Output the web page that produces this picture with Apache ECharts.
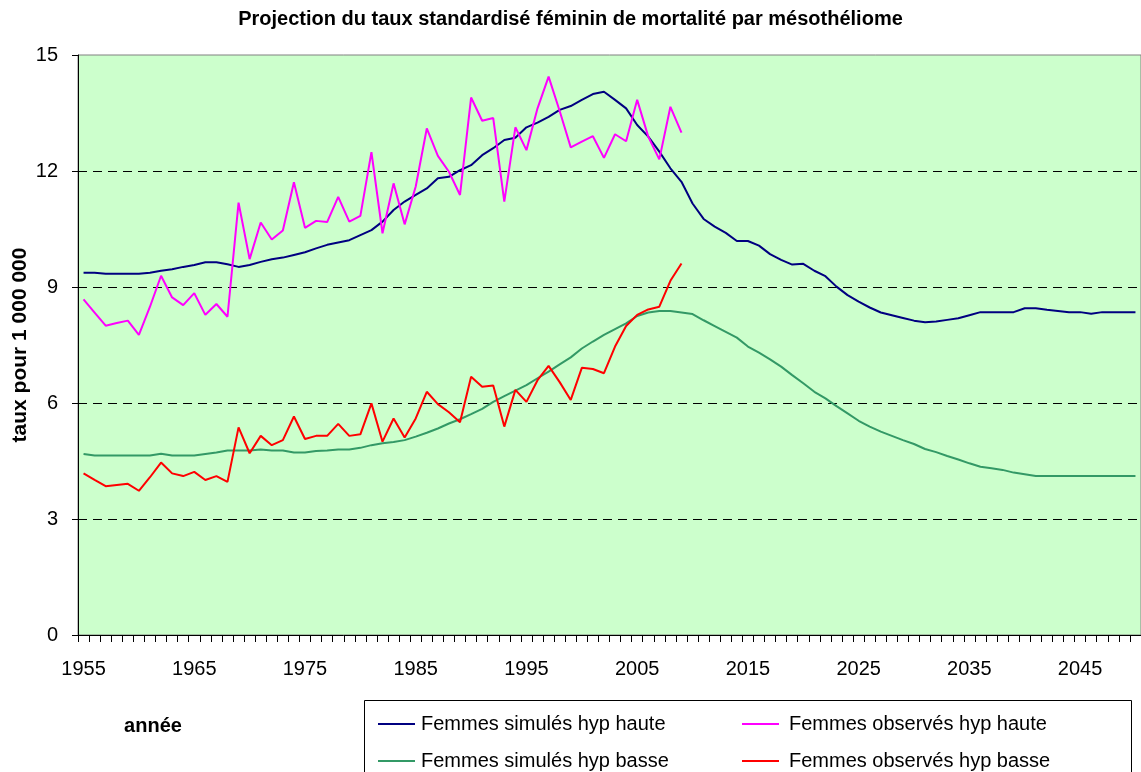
<!DOCTYPE html>
<html>
<head>
<meta charset="utf-8">
<title>mésothéliome</title>
<script src="https://cdn.jsdelivr.net/npm/echarts@6/dist/echarts.min.js"></script>
<style>
  body { margin: 0; background: #fff; }
  #chart { width: 1141px; height: 772px; }
</style>
</head>
<body>
<div id="chart"></div>
<script>
var years = [
  '1955','1956','1957','1958','1959','1960','1961','1962','1963','1964',
  '1965','1966','1967','1968','1969','1970','1971','1972','1973','1974',
  '1975','1976','1977','1978','1979','1980','1981','1982','1983','1984',
  '1985','1986','1987','1988','1989','1990','1991','1992','1993','1994',
  '1995','1996','1997','1998','1999','2000','2001','2002','2003','2004',
  '2005','2006','2007','2008','2009','2010','2011','2012','2013','2014',
  '2015','2016','2017','2018','2019','2020','2021','2022','2023','2024',
  '2025','2026','2027','2028','2029','2030','2031','2032','2033','2034',
  '2035','2036','2037','2038','2039','2040','2041','2042','2043','2044',
  '2045','2046','2047','2048','2049','2050'
];

// Femmes simulés hyp haute
var simHaute = [
  9.37, 9.37, 9.34, 9.34, 9.34, 9.34, 9.37, 9.42, 9.46, 9.52,
  9.57, 9.64, 9.64, 9.59, 9.52, 9.57, 9.65, 9.72, 9.76, 9.83,
  9.90, 10.00, 10.09, 10.15, 10.21, 10.34, 10.47, 10.69, 10.99, 11.21,
  11.38, 11.55, 11.81, 11.85, 12.02, 12.15, 12.41, 12.59, 12.80, 12.86,
  13.13, 13.25, 13.40, 13.58, 13.68, 13.84, 13.99, 14.05, 13.84, 13.62,
  13.19, 12.89, 12.50, 12.07, 11.72, 11.16, 10.76, 10.56, 10.40, 10.19,
  10.19, 10.07, 9.85, 9.70, 9.58, 9.60, 9.42, 9.28, 9.01, 8.79,
  8.62, 8.47, 8.34, 8.27, 8.20, 8.13, 8.09, 8.11, 8.15, 8.19,
  8.27, 8.35, 8.35, 8.35, 8.35, 8.45, 8.45, 8.41, 8.38, 8.35,
  8.35, 8.31, 8.35, 8.35, 8.35, 8.35
];

// Femmes observés hyp haute (1955-2009)
var obsHaute = [
  8.68, 8.34, 8.00, 8.07, 8.13, 7.76, 8.49, 9.29, 8.73, 8.53,
  8.84, 8.28, 8.56, 8.23, 11.18, 9.72, 10.67, 10.23, 10.46, 11.71,
  10.53, 10.71, 10.68, 11.33, 10.69, 10.84, 12.49, 10.39, 11.68, 10.62,
  11.60, 13.10, 12.39, 11.98, 11.38, 13.90, 13.30, 13.37, 11.21, 13.13,
  12.54, 13.62, 14.44, 13.55, 12.61, 12.76, 12.90, 12.34, 12.95, 12.77,
  13.84, 12.89, 12.30, 13.66, 12.99
];

// Femmes simulés hyp basse
var simBasse = [
  4.68, 4.64, 4.64, 4.64, 4.64, 4.64, 4.64, 4.69, 4.64, 4.64,
  4.64, 4.68, 4.72, 4.77, 4.77, 4.77, 4.80, 4.77, 4.77, 4.72,
  4.72, 4.76, 4.77, 4.80, 4.80, 4.84, 4.91, 4.96, 4.99, 5.04,
  5.13, 5.23, 5.34, 5.47, 5.58, 5.71, 5.85, 6.03, 6.18, 6.32,
  6.46, 6.64, 6.81, 7.00, 7.18, 7.41, 7.59, 7.76, 7.91, 8.06,
  8.25, 8.34, 8.38, 8.38, 8.34, 8.30, 8.14, 7.99, 7.84, 7.69,
  7.46, 7.30, 7.13, 6.94, 6.72, 6.51, 6.29, 6.12, 5.92, 5.73,
  5.54, 5.39, 5.26, 5.15, 5.04, 4.94, 4.81, 4.73, 4.63, 4.54,
  4.44, 4.35, 4.31, 4.27, 4.20, 4.16, 4.11, 4.11, 4.11, 4.11,
  4.11, 4.11, 4.11, 4.11, 4.11, 4.11
];

// Femmes observés hyp basse (1955-2009)
var obsBasse = [
  4.18, 4.01, 3.85, 3.88, 3.91, 3.73, 4.08, 4.46, 4.18, 4.11,
  4.22, 4.01, 4.11, 3.96, 5.37, 4.70, 5.15, 4.91, 5.04, 5.65,
  5.07, 5.15, 5.15, 5.46, 5.15, 5.19, 5.99, 5.00, 5.60, 5.11,
  5.60, 6.29, 5.97, 5.76, 5.50, 6.68, 6.42, 6.45, 5.39, 6.34,
  6.03, 6.59, 6.96, 6.54, 6.08, 6.91, 6.88, 6.77, 7.46, 7.99,
  8.28, 8.42, 8.49, 9.16, 9.61
];

var yTicks = [0, 3, 6, 9, 12, 15];

var font = 'Liberation Sans, Arial, sans-serif';
var names = [
  'Femmes simulés hyp haute',
  'Femmes observés hyp haute',
  'Femmes simulés hyp basse',
  'Femmes observés hyp basse'
];
var colors = ['#000080', '#FF00FF', '#339966', '#FF0000'];

// one legend per entry so the two columns line up like the excel box
var legendPos = [[373, 709], [737, 709], [373, 746], [737, 746]];
function legends(){
  var res = [];
  for(let i=0; i<names.length; i++){
    res.push({
      left: legendPos[i][0],
      top: legendPos[i][1],
      icon: 'rect',
      itemWidth: 37,
      itemHeight: 2,
      selectedMode: false,
      data: [names[i]],
      textStyle: { fontFamily: font, fontSize: 20, color: '#000', padding: [0, 0, 0, i % 2 ? 5 : 1] }
    });
  }
  return res;
}

function lines(){
  var data = [simHaute, obsHaute, simBasse, obsBasse];
  var res = [];
  for(let i=0; i<names.length; i++){
    res.push({
      name: names[i],
      type: 'line',
      data: data[i],
      symbol: 'none',
      color: colors[i],
      lineStyle: { width: 2, color: colors[i] }
    });
  }
  return res;
}

var myChart = echarts.init(document.getElementById('chart'), null, { renderer: 'canvas' });

var option = {
  animation: false,
  backgroundColor: '#ffffff',
  textStyle: { fontFamily: font },
  grid: {
    left: 78,
    right: 0,
    top: 55,
    bottom: 137,
    show: true,
    backgroundColor: '#CCFFCC',
    borderColor: '#808080',
    borderWidth: 1
  },
  legend: legends(),
  graphic: [
    {
      type: 'text',
      left: 'center',
      top: 9,
      style: {
        text: 'Projection du taux standardisé féminin de mortalité par mésothéliome',
        font: 'bold 20px ' + font,
        fill: '#000'
      }
    },
    {
      type: 'text',
      x: 20,
      y: 345,
      rotation: Math.PI / 2,
      style: {
        text: 'taux pour 1 000 000',
        font: 'bold 21px ' + font,
        fill: '#000',
        align: 'center',
        verticalAlign: 'middle'
      }
    },
    {
      type: 'text',
      x: 153,
      y: 726,
      style: {
        text: 'année',
        font: 'bold 20px ' + font,
        fill: '#000',
        align: 'center',
        verticalAlign: 'middle'
      }
    },
    {
      type: 'rect',
      z: -1,
      shape: { x: 364.5, y: 700.5, width: 767, height: 100 },
      style: { fill: '#fff', stroke: '#000', lineWidth: 1 }
    }
  ],
  xAxis: {
    type: 'category',
    data: years,
    boundaryGap: true,
    axisLine: { lineStyle: { color: '#000', width: 1 } },
    axisTick: { show: true, interval: 0, length: 7, lineStyle: { color: '#000' } },
    axisLabel: {
      interval: 9,
      margin: 24,
      color: '#000',
      fontSize: 20,
      fontFamily: font
    },
    splitLine: { show: false }
  },
  yAxis: {
    type: 'value',
    min: yTicks[0],
    max: yTicks[yTicks.length - 1],
    interval: 3,
    axisLine: { show: true, lineStyle: { color: '#000', width: 1 } },
    axisTick: { show: true, length: 6, lineStyle: { color: '#000' } },
    axisLabel: {
      margin: 20,
      color: '#000',
      fontSize: 20,
      fontFamily: font
    },
    splitLine: {
      show: true,
      lineStyle: {
        color: ['transparent', '#000', '#000', '#000', '#000', 'transparent'],
        type: [9, 6],
        width: 1
      }
    }
  },
  series: lines()
};

myChart.setOption(option);
</script>
</body>
</html>
